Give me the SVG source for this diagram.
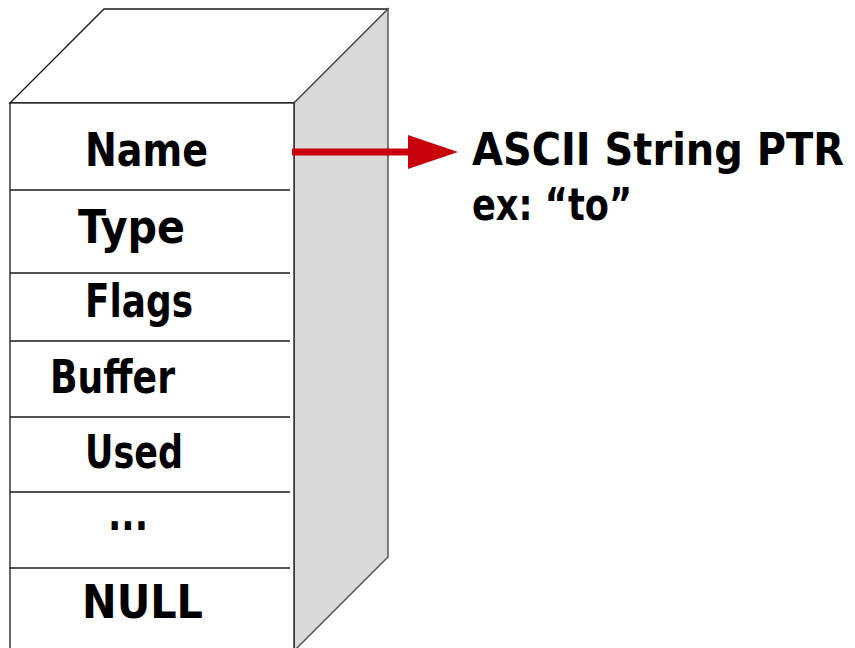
<svg xmlns="http://www.w3.org/2000/svg" width="855" height="648" viewBox="0 0 855 648">
  <style>
    .face { fill: #ffffff; stroke: #1a1a1a; stroke-width: 1.3; }
    .side { fill: #d9d9d9; stroke: #555555; stroke-width: 1.5; }
    .divider { stroke: #1a1a1a; stroke-width: 1.3; }
    .field { font-family: "DejaVu Sans Condensed", "DejaVu Sans", "Liberation Sans", sans-serif; font-weight: bold; font-size: 46px; fill: #000000; }
    .note { font-family: "DejaVu Sans Condensed", "DejaVu Sans", "Liberation Sans", sans-serif; font-weight: bold; font-size: 44px; fill: #000000; }
    .pointer { stroke: #c8000a; stroke-width: 7; fill: none; }
  </style>
  <defs>
    <marker id="arrowhead" markerUnits="userSpaceOnUse" markerWidth="52" markerHeight="36" refX="0" refY="17" orient="auto">
      <polygon points="0,0 50,17 0,34" fill="#c8000a"/>
    </marker>
  </defs>

  <!-- Record block drawn as a box in perspective -->
  <g id="record">
    <polygon class="face" points="10,103 104,9 388,9 294,103"/>
    <polygon class="side" points="294,103 388,9 388,557 294,651"/>
    <rect class="face" x="10" y="103" width="284" height="560"/>
    <line class="divider" x1="10" y1="190" x2="290" y2="190"/>
    <line class="divider" x1="10" y1="273" x2="290" y2="273"/>
    <line class="divider" x1="10" y1="341" x2="290" y2="341"/>
    <line class="divider" x1="10" y1="417" x2="290" y2="417"/>
    <line class="divider" x1="10" y1="492" x2="290" y2="492"/>
    <line class="divider" x1="10" y1="568" x2="290" y2="568"/>
  </g>

  <!-- Field labels -->
  <g id="field-name"><text class="field" x="85" y="166" textLength="123" lengthAdjust="spacingAndGlyphs">Name</text></g>
  <g id="field-type"><text class="field" x="78" y="243" textLength="107" lengthAdjust="spacingAndGlyphs">Type</text></g>
  <g id="field-flags"><text class="field" x="85" y="317" textLength="108" lengthAdjust="spacingAndGlyphs">Flags</text></g>
  <g id="field-buffer"><text class="field" x="50" y="393" textLength="125" lengthAdjust="spacingAndGlyphs">Buffer</text></g>
  <g id="field-used"><text class="field" x="85" y="468" textLength="98" lengthAdjust="spacingAndGlyphs">Used</text></g>
  <g id="field-more"><text class="field" x="108" y="530" font-size="52" textLength="40" lengthAdjust="spacingAndGlyphs">...</text></g>
  <g id="field-null"><text class="field" x="82" y="618" textLength="121" lengthAdjust="spacingAndGlyphs">NULL</text></g>

  <!-- Target of the Name pointer -->
  <g id="ascii-string">
    <text class="note" x="472" y="165" textLength="372" lengthAdjust="spacingAndGlyphs">ASCII String PTR</text>
    <text class="note" x="472" y="220" textLength="160" lengthAdjust="spacingAndGlyphs">ex: “to”</text>
  </g>

  <g id="connectors">
    <line class="pointer" x1="292" y1="152" x2="408" y2="152" marker-end="url(#arrowhead)"/>
  </g>
</svg>
